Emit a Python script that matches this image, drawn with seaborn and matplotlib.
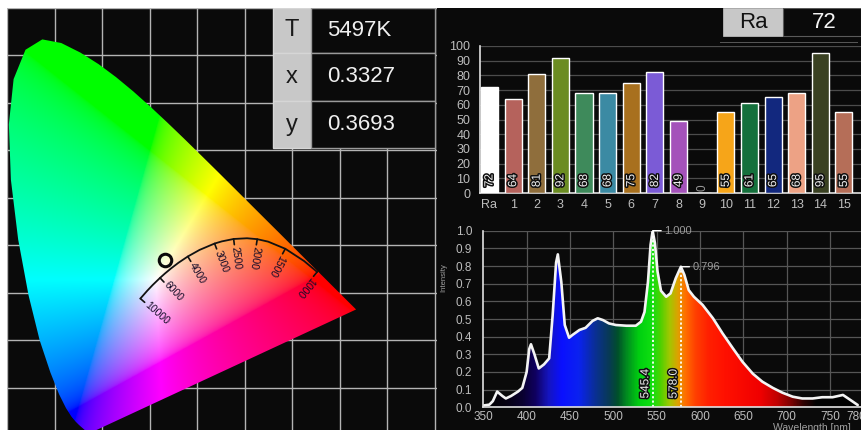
import numpy as np
import pandas as pd
import matplotlib
matplotlib.use("Agg")
import matplotlib.pyplot as plt
import seaborn as sns
from matplotlib.patches import Rectangle, Polygon
from matplotlib.colors import LinearSegmentedColormap, Normalize
import matplotlib.patheffects as pe

# ---------------- data ----------------
# CIE 1931 spectral locus (nm, x, y)
locus_nm = [380, 390, 400, 410, 420, 425, 430, 435, 440, 445, 450, 455, 460, 465, 470, 475,
            480, 485, 490, 495, 500, 505, 510, 515, 520, 525, 530, 535, 540, 545, 550, 555,
            560, 565, 570, 575, 580, 585, 590, 595, 600, 605, 610, 615, 620, 625, 630, 640,
            650, 660, 680, 700]
locus_x = [0.1741, 0.1738, 0.1733, 0.1726, 0.1714, 0.1703, 0.1689, 0.1669, 0.1644, 0.1611,
           0.1566, 0.1510, 0.1440, 0.1355, 0.1241, 0.1096, 0.0913, 0.0687, 0.0454, 0.0235,
           0.0082, 0.0039, 0.0139, 0.0389, 0.0743, 0.1142, 0.1547, 0.1929, 0.2296, 0.2658,
           0.3016, 0.3373, 0.3731, 0.4087, 0.4441, 0.4788, 0.5125, 0.5448, 0.5752, 0.6029,
           0.6270, 0.6482, 0.6658, 0.6801, 0.6915, 0.7006, 0.7079, 0.7190, 0.7260, 0.7300,
           0.7334, 0.7347]
locus_y = [0.0050, 0.0049, 0.0048, 0.0048, 0.0051, 0.0058, 0.0069, 0.0086, 0.0109, 0.0138,
           0.0177, 0.0227, 0.0297, 0.0399, 0.0578, 0.0868, 0.1327, 0.2007, 0.2950, 0.4127,
           0.5384, 0.6548, 0.7502, 0.8120, 0.8338, 0.8262, 0.8059, 0.7816, 0.7543, 0.7243,
           0.6923, 0.6589, 0.6245, 0.5896, 0.5547, 0.5202, 0.4866, 0.4544, 0.4242, 0.3965,
           0.3725, 0.3514, 0.3340, 0.3197, 0.3083, 0.2993, 0.2920, 0.2809, 0.2740, 0.2700,
           0.2666, 0.2653]

# Planckian locus
planck_T = [10000, 8000, 7000, 6000, 5500, 5000, 4500, 4000, 3500, 3000, 2800, 2500, 2200,
            2000, 1800, 1500, 1200, 1000]
planck_x = [0.2807, 0.2952, 0.3064, 0.3221, 0.3325, 0.3451, 0.3608, 0.3805, 0.4053, 0.4369,
            0.4520, 0.4770, 0.5052, 0.5267, 0.5496, 0.5857, 0.6251, 0.6528]
planck_y = [0.2883, 0.3048, 0.3166, 0.3318, 0.3411, 0.3516, 0.3636, 0.3768, 0.3907, 0.4041,
            0.4086, 0.4137, 0.4152, 0.4133, 0.4081, 0.3931, 0.3674, 0.3444]
planck_label_T = [10000, 6000, 4000, 3000, 2500, 2000, 1500, 1000]

cct = 5497
chroma_x = 0.3327
chroma_y = 0.3693

# colour rendering indices
ri_labels = ["Ra", "1", "2", "3", "4", "5", "6", "7", "8", "9", "10", "11", "12", "13", "14", "15"]
ri_values = [72, 64, 81, 92, 68, 68, 75, 82, 49, 0, 55, 61, 65, 68, 95, 55]
ri_colors = ["#ffffff", "#b5625c", "#8f6e3c", "#6b8c22", "#3e8a5b", "#3b8aa3", "#a8701e",
             "#7b5bd6", "#a452ba", "#c01010", "#f6a519", "#15703c", "#12287e", "#eda285",
             "#3a4122", "#b56e58"]
ra_value = 72

# spectrum
spec_nm = [350, 357, 361, 366, 372, 376, 382, 390, 395, 400, 403, 405, 409, 414, 420, 426,
           430, 434, 436, 440, 444, 449, 453, 461, 468, 476, 482, 488, 495, 503, 515, 526,
           532, 536, 540, 543, 545.4, 548, 551, 555, 561, 566, 572, 578, 582, 587, 593, 603,
           615, 626, 638, 649, 661, 672, 684, 695, 707, 718, 730, 741, 753, 765, 774, 782]
spec_int = [0.01, 0.015, 0.035, 0.089, 0.064, 0.05, 0.064, 0.089, 0.11, 0.2, 0.33, 0.357,
            0.30, 0.22, 0.243, 0.277, 0.52, 0.82, 0.866, 0.71, 0.466, 0.394, 0.41, 0.438,
            0.45, 0.489, 0.504, 0.494, 0.475, 0.466, 0.462, 0.462, 0.485, 0.54, 0.71, 0.92,
            1.0, 0.93, 0.77, 0.66, 0.626, 0.645, 0.73, 0.796, 0.75, 0.664, 0.626, 0.58, 0.504,
            0.419, 0.334, 0.258, 0.19, 0.145, 0.11, 0.083, 0.06, 0.05, 0.05, 0.057, 0.057,
            0.07, 0.04, 0.013]
peak_nm = [545.4, 578.0]
peak_int = [1.000, 0.796]
wl_ticks = [350, 400, 450, 500, 550, 600, 650, 700, 750, 780]

# ---------------- style ----------------
sns.set_style("dark", rc={"axes.facecolor": "#0a0a0a", "figure.facecolor": "#0a0a0a"})
plt.rcParams["font.family"] = ["Liberation Sans", "DejaVu Sans"]

W, H = 861, 430
fig = plt.figure(figsize=(W / 100, H / 100), dpi=100, facecolor="#0a0a0a")


def fax(x0, y0, x1, y1):
    return [x0 / W, 1 - y1 / H, (x1 - x0) / W, (y1 - y0) / H]


def frect(x0, y0, x1, y1, **kw):
    r = Rectangle((x0 / W, 1 - y1 / H), (x1 - x0) / W, (y1 - y0) / H,
                  transform=fig.transFigure, **kw)
    fig.patches.append(r)
    return r


def ftext(x, y, s, **kw):
    return fig.text(x / W, 1 - y / H, s, **kw)


# ---------------- CIE diagram ----------------
ax1 = fig.add_axes(fax(7, 7, 437, 430))
ax1.set_facecolor("#0a0a0a")
x0, x1, y0, y1 = 0.0, 0.905, 0.0116, 0.902
ax1.set_xlim(x0, x1)
ax1.set_ylim(y0, y1)
ax1.set_xticks(np.arange(0, 0.91, 0.1))
ax1.set_yticks(np.arange(0.1, 0.91, 0.1))
ax1.tick_params(length=0, labelbottom=False, labelleft=False)
ax1.grid(True, color="#b4b4b4", lw=1.0)
ax1.set_axisbelow(True)
for s in ax1.spines.values():
    s.set_visible(False)

gx = np.linspace(x0, x1, 500)
gy = np.linspace(y0, y1, 500)
GX, GY = np.meshgrid(gx, gy)
Yc = np.maximum(GY, 1e-3)
Xt = GX / Yc
Zt = (1 - GX - GY) / Yc
M = np.array([[3.2406, -1.5372, -0.4986], [-0.9689, 1.8758, 0.0415], [0.0557, -0.2040, 1.0570]])
rgb = np.stack([Xt, np.ones_like(Xt), Zt], -1) @ M.T
rgb = np.clip(rgb, 0, None)
rgb = rgb / (rgb.max(-1, keepdims=True) + 1e-9)
rgb = np.clip(rgb, 0, 1) ** (1 / 2.2)
im = ax1.imshow(rgb, extent=[x0, x1, y0, y1], origin="lower", aspect="auto",
                interpolation="bilinear", zorder=2)
poly = Polygon(np.column_stack([locus_x, locus_y]), closed=True, transform=ax1.transData,
               fc="none", ec="none")
im.set_clip_path(poly)

pdf = pd.DataFrame({"x": planck_x, "y": planck_y})
sns.lineplot(data=pdf, x="x", y="y", sort=False, color="#111111", lw=1.3, ax=ax1, zorder=4)
ax1.set_xlabel("")
ax1.set_ylabel("")
px_arr = np.array(planck_x)
py_arr = np.array(planck_y)
for T in planck_label_T:
    i = planck_T.index(T)
    ia, ib = max(i - 1, 0), min(i + 1, len(planck_T) - 1)
    tx, ty = px_arr[ib] - px_arr[ia], py_arr[ib] - py_arr[ia]
    nrm = np.hypot(tx, ty)
    tx, ty = tx / nrm, ty / nrm
    nx, ny = ty, -tx
    p = np.array([px_arr[i], py_arr[i]])
    ax1.plot([p[0], p[0] + nx * 0.012], [p[1], p[1] + ny * 0.012], color="#111111", lw=1.2,
             zorder=4)
    ang = np.degrees(np.arctan2(ny, nx))
    ax1.text(p[0] + nx * 0.016, p[1] + ny * 0.016, str(T), rotation=ang,
             rotation_mode="anchor", ha="left", va="center", fontsize=7.5,
             color="#140c28", zorder=5)

ax1.plot([chroma_x], [chroma_y], "o", mfc="none", mec="#0a0a0a", ms=9, mew=2.2, zorder=6)

# table
rows = [("T", f"{cct}K"), ("x", f"{chroma_x:.4f}"), ("y", f"{chroma_y:.4f}")]
row_edges = [8, 53, 101, 148]
for k, (lab, val) in enumerate(rows):
    ya, yb = row_edges[k], row_edges[k + 1]
    frect(273, ya, 311, yb, fc="#c8c8c8", ec="#d6d6d6", lw=1, zorder=5)
    frect(311, ya, 435, yb, fc="#0a0a0a", ec="#9a9a9a", lw=1, zorder=5)
    ftext(292, (ya + yb) / 2, lab, ha="center", va="center", fontsize=17, color="#1a1a1a",
          zorder=6)
    ftext(327, (ya + yb) / 2, val, ha="left", va="center", fontsize=16, color="#f0f0f0",
          zorder=6)

# ---------------- CRI bars ----------------
ax2 = fig.add_axes(fax(480, 46, 861, 193))
ax2.set_facecolor("#0a0a0a")
bdf = pd.DataFrame({"label": ri_labels, "value": ri_values})
sns.barplot(data=bdf, x="label", y="value", hue="label", palette=ri_colors, legend=False,
            width=0.72, saturation=1, ax=ax2, zorder=3)
ax2.set_xlim(-0.4, 15.72)
ax2.set_ylim(0, 100)
ax2.set_yticks(np.arange(0, 101, 10))
ax2.set_xlabel("")
ax2.set_ylabel("")
ax2.grid(True, axis="y", color="#4c4c4c", lw=0.9)
ax2.grid(False, axis="x")
ax2.set_axisbelow(True)
for s in ["top", "right"]:
    ax2.spines[s].set_visible(False)
for s in ["left", "bottom"]:
    ax2.spines[s].set_color("#e0e0e0")
    ax2.spines[s].set_linewidth(1.2)
ax2.tick_params(axis="y", length=4, width=1, color="#e0e0e0", pad=3, labelsize=9,
                labelcolor="#bdbdbd")
ax2.tick_params(axis="x", length=0, pad=4, labelsize=9, labelcolor="#bdbdbd")
for i, v in enumerate(ri_values):
    t = ax2.text(i, 4 if v > 0 else 1.5, str(v), rotation=90, ha="center", va="bottom",
                 fontsize=8.5, color="#f4f4f4" if v > 0 else "#9a9a9a", zorder=5)
    if v > 0:
        t.set_path_effects([pe.withStroke(linewidth=2.2, foreground="#101010")])

frect(723, 8, 783, 36, fc="#c8c8c8", ec="#c8c8c8", lw=0.5, zorder=5)
frect(783, 8, 861, 36, fc="#0a0a0a", ec="#5a5a5a", lw=0.8, zorder=5)
ftext(753, 22, "Ra", ha="center", va="center", fontsize=16, color="#111111", zorder=6)
ftext(824, 22, str(ra_value), ha="center", va="center", fontsize=16, color="#f4f4f4", zorder=6)
frect(720, 41.5, 858, 43, fc="#555555", ec="none", zorder=5)

# ---------------- spectrum ----------------
ax3 = fig.add_axes(fax(483.3, 230.7, 861, 407.3))
ax3.set_facecolor("#0a0a0a")
ax3.set_xlim(350, 785.8)
ax3.set_ylim(0, 1.0)

stops = [(350, "#000000"), (375, "#050010"), (395, "#0a0030"), (410, "#100060"),
         (425, "#1515c0"), (440, "#0a10ff"), (460, "#0a22f0"), (480, "#0a3090"),
         (495, "#083a55"), (505, "#00502a"), (515, "#008a20"), (530, "#00d010"),
         (545, "#10e010"), (555, "#50d000"), (565, "#a0c800"), (575, "#e0a000"),
         (583, "#ff7000"), (595, "#ff4000"), (610, "#ff2000"), (630, "#ff1000"),
         (670, "#f00000"), (690, "#c00000"), (705, "#800000"), (720, "#300000"),
         (735, "#000000"), (785.8, "#000000")]
lo, hi = 350, 785.8
cmap = LinearSegmentedColormap.from_list(
    "spec", [((w - lo) / (hi - lo), c) for w, c in stops])
grad = np.linspace(lo, hi, 900).reshape(1, -1)
im2 = ax3.imshow(grad, extent=[lo, hi, 0, 1], aspect="auto", cmap=cmap,
                 norm=Normalize(lo, hi), origin="lower", zorder=1, interpolation="bilinear")
verts = [(spec_nm[0], 0)] + list(zip(spec_nm, spec_int)) + [(spec_nm[-1], 0)]
spoly = Polygon(verts, closed=True, transform=ax3.transData, fc="none", ec="none")
im2.set_clip_path(spoly)

sdf = pd.DataFrame({"nm": spec_nm, "intensity": spec_int})
sns.lineplot(data=sdf, x="nm", y="intensity", color="#f4f4f4", lw=1.9, ax=ax3, zorder=4)
ax3.set_xlabel("")
ax3.set_ylabel("")

for p, h in zip(peak_nm, peak_int):
    ax3.plot([p, p], [0, h], color="white", lw=1.3, ls=(0, (1.2, 1.2)), zorder=5)
    ax3.annotate(f"{h:.3f}", xy=(p, h), xytext=(8.5, 0), textcoords="offset points",
                 ha="left", va="center", fontsize=8, color="#9a9a9a",
                 arrowprops=dict(arrowstyle="-", color="white", lw=1, shrinkA=0, shrinkB=0),
                 zorder=6)
    t = ax3.text(p - 1.5, 0.05, f"{p:.1f}", rotation=90, ha="right", va="bottom",
                 fontsize=8.5, color="#f0f0f0", zorder=6)
    t.set_path_effects([pe.withStroke(linewidth=2.2, foreground="#101010")])

ax3.set_xticks(wl_ticks)
ax3.set_yticks(np.arange(0, 1.01, 0.1))
ax3.set_yticklabels([f"{v:.1f}" for v in np.arange(0, 1.01, 0.1)])
ax3.grid(True, color="#565656", lw=0.9)
ax3.set_axisbelow(True)
for gl, v in zip(ax3.get_xgridlines(), wl_ticks):
    if v in (350, 780):
        gl.set_visible(False)
for s in ["top", "right"]:
    ax3.spines[s].set_visible(False)
for s in ["left", "bottom"]:
    ax3.spines[s].set_color("#e0e0e0")
    ax3.spines[s].set_linewidth(1.2)
    ax3.spines[s].set_zorder(6)
ax3.tick_params(axis="y", length=4, width=1, color="#e0e0e0", pad=4, labelsize=8.5,
                labelcolor="#bdbdbd")
ax3.tick_params(axis="x", length=0, pad=3, labelsize=8.5, labelcolor="#bdbdbd")

ftext(444, 278, "Intensity", rotation=90, ha="center", va="center", fontsize=5.5,
      color="#a0a0a0")
ftext(812, 423, "Wavelength [nm]", ha="center", va="top", fontsize=7.5, color="#a0a0a0")

# white margins at top and left
frect(0, 0, W, 7.5, fc="white", ec="none", zorder=20)
frect(0, 0, 7, H, fc="white", ec="none", zorder=20)

fig.savefig("out.png", dpi=100, facecolor=fig.get_facecolor())
